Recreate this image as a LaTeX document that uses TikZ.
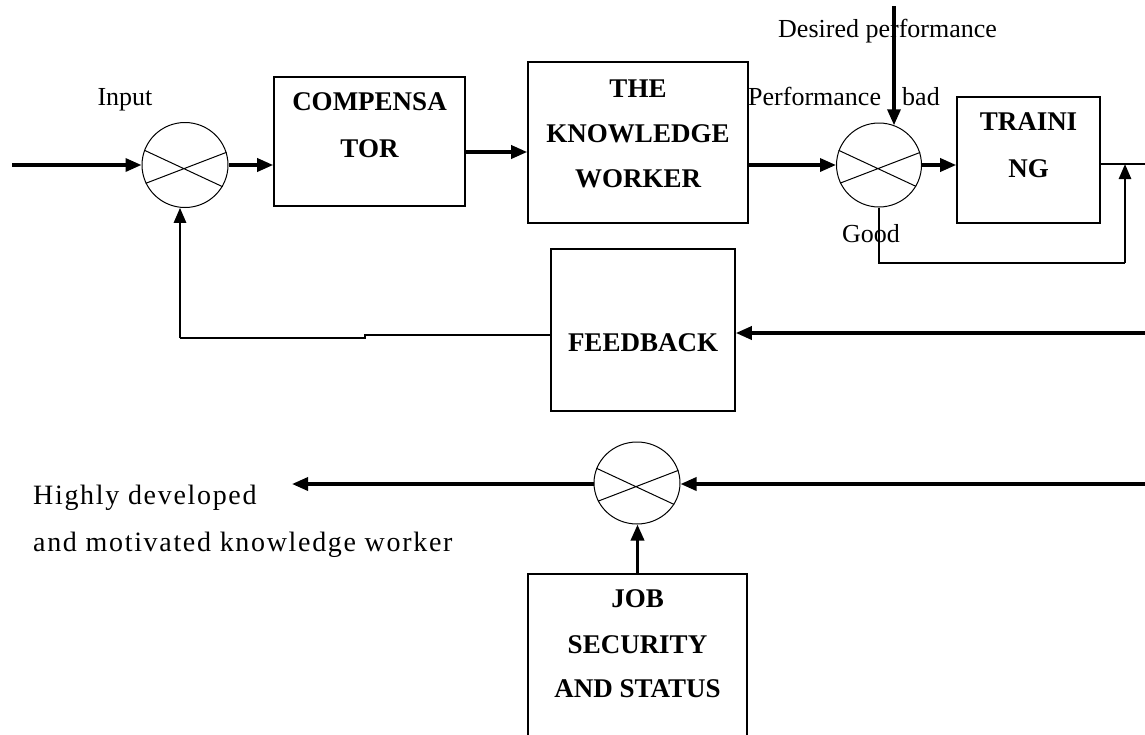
\documentclass[tikz,border=0pt]{standalone}
\usepackage{fontspec}
\setmainfont{Liberation Serif}
\newfontfamily\widefont{Liberation Serif}[LetterSpace=6]
\usetikzlibrary{arrows.meta,shapes.geometric,calc}
\begin{document}
\begin{tikzpicture}[x=1pt,y=-1pt,
  box/.style={draw,line width=1.6pt,rectangle,inner sep=0pt},
  sumj/.style={draw,ellipse,line width=1pt,inner sep=0pt},
  lbl/.style={font=\fontsize{26}{30}\selectfont,inner sep=0pt,anchor=base},
  blbl/.style={font=\fontsize{27}{30}\selectfont\bfseries,inner sep=0pt,anchor=base},
  hlbl/.style={font=\fontsize{28}{32}\selectfont\widefont,inner sep=0pt,anchor=base west},
  thinline/.style={line width=1.5pt},
  crossline/.style={line width=1pt},
  arr/.style={line width=3.4pt,-{Triangle[length=16pt,width=13pt]}},
  arrmid/.style={line width=2.6pt,-{Triangle[length=15pt,width=12pt]}},
]
\fill[white] (0,0) rectangle (1145,734);
\path[use as bounding box,clip] (0,0) rectangle (1145,734);

% summing junctions
\node[sumj,minimum width=86pt,minimum height=85pt] (c1) at (185,165) {};
\node[sumj,minimum width=85pt,minimum height=84pt] (c2) at (879,165) {};
\node[sumj,minimum width=86pt,minimum height=82pt] (c3) at (637,483) {};
\foreach \c in {c1,c2,c3}{
  \draw[crossline] (\c.160) -- (\c.-30) (\c.205) -- (\c.17);
}

% boxes
\node[box,minimum width=191pt,minimum height=129pt] (comp) at (369.5,141.5) {};
\node[box,minimum width=220pt,minimum height=161pt] (kw) at (638,142.5) {};
\node[box,minimum width=143pt,minimum height=126pt] (tr) at (1028.5,160) {};
\node[box,minimum width=184pt,minimum height=162pt] (fb) at (643,330) {};
\node[box,minimum width=219pt,minimum height=180pt] (job) at (637.5,664) {};

% box texts
\node[blbl] (tcomp1) at (369.5,110) {COMPENSA};
\node[blbl] (tcomp2) at (369.5,157) {TOR};
\node[blbl] (tkw1) at (638,97) {THE};
\node[blbl] (tkw2) at (638,142) {KNOWLEDGE};
\node[blbl] (tkw3) at (638,187) {WORKER};
\node[blbl] (ttr1) at (1028.5,130) {TRAINI};
\node[blbl] (ttr2) at (1028.5,177) {NG};
\node[blbl] (tfb) at (643,351) {FEEDBACK};
\node[blbl] (tjob1) at (637.5,607) {JOB};
\node[blbl] (tjob2) at (637.5,653) {SECURITY};
\node[blbl] (tjob3) at (637.5,697) {AND STATUS};

% labels
\node[lbl] (input) at (125,105) {Input};
\node[lbl,anchor=base west] (desired) at (778,37) {Desired performance};
\node[lbl,anchor=base west] (perf) at (748,105) {Performance};
\node[lbl,anchor=base west] (bad) at (902,105) {bad};
\node[lbl] (good) at (871,242) {Good};
\node[hlbl] (hd1) at (33,504) {Highly developed};
\node[hlbl] (hd2) at (33,551) {and motivated knowledge worker};

% forward path
\coordinate (inp) at (12,165);
\draw[arr] (inp) -- (c1.west);
\draw[arr] (c1.east) -- (c1.east -| comp.west);
\draw[arr] (comp.east |- 0,152) -- (kw.west |- 0,152);
\draw[arr] (kw.east |- c2.west) -- (c2.west);
\coordinate (dptop) at (894,6);
\draw[arr] (dptop) -- (dptop |- c2.69);
\draw[arr] (c2.east) -- (c2.east -| tr.west);
\coordinate (trout) at (1145,164);
\draw[thinline] (trout -| tr.east) -- (trout);

% good path
\coordinate (gc) at (1125,263);
\draw[thinline] (c2.south) -- (c2.south |- gc) -- (gc);
\draw[arrmid] (gc) -- (gc |- trout);

% feedback
\coordinate (fbin) at (1145,333);
\draw[arr] (fbin) -- (fbin -| fb.east);
\coordinate (jog) at (365,335);
\coordinate (fbl) at (180,338);
\draw[thinline] (fb.west |- jog) -- (jog) -- (jog |- fbl) -- (fbl);
\draw[arrmid] (fbl) -- (fbl |- c1.-96);

% bottom path
\coordinate (bin) at (1145,484);
\draw[arr] (bin) -- (bin -| c3.east);
\coordinate (bout) at (292,484);
\draw[arr] (c3.west |- bout) -- (bout);
\draw[arr] (job.north) -- (job.north |- c3.south);
\end{tikzpicture}
\end{document}
